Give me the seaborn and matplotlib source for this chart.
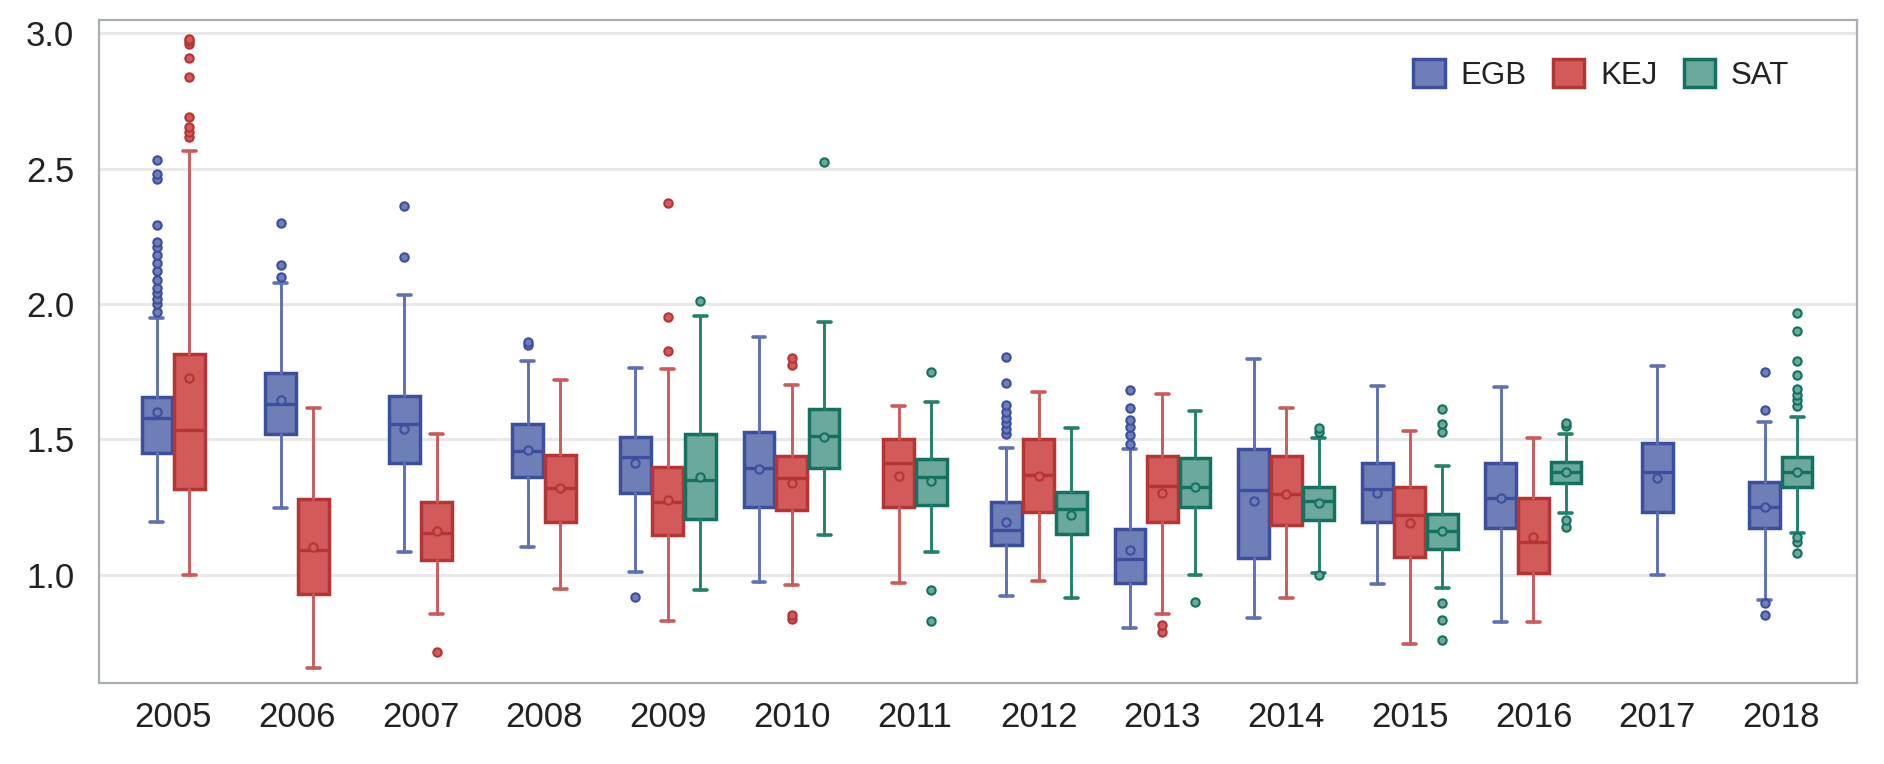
#!/usr/bin/env python3
"""Grouped box plots per year (EGB / KEJ / SAT), drawn from summary stats."""

import matplotlib
matplotlib.use('Agg')
import matplotlib.pyplot as plt
from matplotlib.patches import Patch
import seaborn as sns

# ---- data ----
YEARS = ['2005', '2006', '2007', '2008', '2009', '2010', '2011',
         '2012', '2013', '2014', '2015', '2016', '2017', '2018']
GROUPS = ['EGB', 'KEJ', 'SAT']

# per group, one entry per year (None = no box that year)
EGB_LO = [1.194, 1.248, 1.085, 1.103, 1.009, 0.972, None, 0.922, 0.802, 0.839, 0.964, 0.826, 0.999, 0.906]
EGB_Q1 = [1.451, 1.520, 1.414, 1.362, 1.301, 1.249, None, 1.110, 0.968, 1.063, 1.194, 1.171, 1.233, 1.171]
EGB_MED = [1.578, 1.629, 1.557, 1.457, 1.436, 1.393, None, 1.165, 1.057, 1.313, 1.316, 1.282, 1.378, 1.251]
EGB_Q3 = [1.658, 1.744, 1.660, 1.556, 1.510, 1.526, None, 1.270, 1.169, 1.463, 1.411, 1.411, 1.488, 1.344]
EGB_HI = [1.950, 2.076, 2.033, 1.791, 1.762, 1.877, None, 1.469, 1.465, 1.796, 1.697, 1.695, 1.772, 1.564]
EGB_MEAN = [1.602, 1.645, 1.538, 1.460, 1.411, 1.390, None, 1.196, 1.091, 1.273, 1.301, 1.283, 1.358, 1.250]
EGB_OUT = [
    [1.97, 2.00, 2.02, 2.04, 2.06, 2.09, 2.12, 2.15, 2.18, 2.21, 2.23, 2.29, 2.46, 2.48, 2.53],
    [2.10, 2.144, 2.298],
    [2.175, 2.36],
    [1.85, 1.86],
    [0.919],
    [],
    None,
    [1.52, 1.54, 1.56, 1.58, 1.60, 1.626, 1.707, 1.805],
    [1.482, 1.516, 1.547, 1.571, 1.615, 1.682],
    [], [], [], [],
    [0.851, 0.894, 1.608, 1.748],
]

KEJ_LO = [0.999, 0.654, 0.854, 0.947, 0.829, 0.962, 0.968, 0.977, 0.854, 0.913, 0.744, 0.824, None, None]
KEJ_Q1 = [1.315, 0.929, 1.054, 1.196, 1.147, 1.239, 1.249, 1.233, 1.196, 1.184, 1.067, 1.007, None, None]
KEJ_MED = [1.535, 1.091, 1.153, 1.319, 1.270, 1.358, 1.411, 1.368, 1.328, 1.298, 1.221, 1.120, None, None]
KEJ_Q3 = [1.815, 1.278, 1.270, 1.442, 1.399, 1.438, 1.501, 1.501, 1.438, 1.438, 1.325, 1.282, None, None]
KEJ_HI = [2.566, 1.617, 1.519, 1.719, 1.760, 1.701, 1.624, 1.674, 1.666, 1.615, 1.531, 1.504, None, None]
KEJ_MEAN = [1.726, 1.103, 1.160, 1.320, 1.275, 1.338, 1.366, 1.365, 1.301, 1.298, 1.192, 1.140, None, None]
KEJ_OUT = [
    [2.618, 2.636, 2.655, 2.69, 2.84, 2.91, 2.96, 2.97, 2.98],
    [],
    [0.716],
    [],
    [1.828, 1.953, 2.372],
    [0.838, 0.852, 1.775, 1.80],
    [], [],
    [0.789, 0.814],
    [], [], [],
    None, None,
]

SAT_LO = [None, None, None, None, 0.943, 1.147, 1.085, 0.913, 0.999, 1.007, 0.952, 1.227, None, 1.153]
SAT_Q1 = [None, None, None, None, 1.205, 1.393, 1.257, 1.149, 1.251, 1.202, 1.094, 1.338, None, 1.325]
SAT_MED = [None, None, None, None, 1.350, 1.512, 1.360, 1.242, 1.325, 1.272, 1.161, 1.381, None, 1.381]
SAT_Q3 = [None, None, None, None, 1.519, 1.611, 1.426, 1.307, 1.430, 1.325, 1.224, 1.418, None, 1.436]
SAT_HI = [None, None, None, None, 1.957, 1.935, 1.639, 1.541, 1.606, 1.504, 1.402, 1.520, None, 1.581]
SAT_MEAN = [None, None, None, None, 1.362, 1.507, 1.348, 1.221, 1.325, 1.264, 1.161, 1.380, None, 1.380]
SAT_OUT = [
    None, None, None, None,
    [2.011],
    [2.526],
    [0.830, 0.943, 1.750],
    [],
    [0.898],
    [1.0, 1.528, 1.541],
    [0.759, 0.833, 0.894, 1.528, 1.557, 1.611],
    [1.177, 1.202, 1.55, 1.562],
    None,
    [1.079, 1.122, 1.138, 1.623, 1.645, 1.664, 1.685, 1.738, 1.789, 1.900, 1.968],
]

# ---- styling ----
FILL = {'EGB': '#6e7eb7', 'KEJ': '#d35a5a', 'SAT': '#6aa99c'}
EDGE = {'EGB': '#3c4f9e', 'KEJ': '#b53434', 'SAT': '#14705f'}
WHISK = {'EGB': '#5f71b2', 'KEJ': '#cc5a5a', 'SAT': '#23806d'}

BOX_W = 0.25
STEP = 0.263
CAP_W = 0.105

sns.set_theme(style='white')
plt.rcParams['font.family'] = ['Liberation Sans', 'DejaVu Sans']

fig = plt.figure(figsize=(18.84, 7.64), dpi=100)
ax = fig.add_axes([0.0527, 0.1056, 0.933, 0.8676])

series = {
    'EGB': (EGB_LO, EGB_Q1, EGB_MED, EGB_Q3, EGB_HI, EGB_MEAN, EGB_OUT),
    'KEJ': (KEJ_LO, KEJ_Q1, KEJ_MED, KEJ_Q3, KEJ_HI, KEJ_MEAN, KEJ_OUT),
    'SAT': (SAT_LO, SAT_Q1, SAT_MED, SAT_Q3, SAT_HI, SAT_MEAN, SAT_OUT),
}

for i, year in enumerate(YEARS):
    present = [g for g in GROUPS if series[g][0][i] is not None]
    n = len(present)
    for k, g in enumerate(present):
        lo, q1, med, q3, hi, mean, out = (s[i] for s in series[g])
        pos = i + (k - (n - 1) / 2) * STEP
        stats = [{'whislo': lo, 'q1': q1, 'med': med, 'q3': q3,
                  'whishi': hi, 'mean': mean, 'fliers': out}]
        ax.bxp(stats, positions=[pos], widths=BOX_W, capwidths=CAP_W,
               patch_artist=True, showmeans=True, manage_ticks=False,
               boxprops=dict(facecolor=FILL[g], edgecolor=EDGE[g], linewidth=2.5),
               medianprops=dict(color=EDGE[g], linewidth=2.4),
               whiskerprops=dict(color=WHISK[g], linewidth=2.1),
               capprops=dict(color=WHISK[g], linewidth=2.6),
               meanprops=dict(marker='o', markerfacecolor=FILL[g],
                              markeredgecolor=EDGE[g], markersize=6,
                              markeredgewidth=1.5),
               flierprops=dict(marker='o', markerfacecolor=FILL[g],
                               markeredgecolor=EDGE[g], markersize=6,
                               markeredgewidth=1.5),
               zorder=3)

ax.set_xlim(-0.598, 13.617)
ax.set_ylim(0.599, 3.047)
ax.set_xticks(range(len(YEARS)))
ax.set_xticklabels(YEARS)
ax.set_yticks([1.0, 1.5, 2.0, 2.5, 3.0])
ax.set_yticklabels(['1.0', '1.5', '2.0', '2.5', '3.0'])
ax.tick_params(axis='both', length=0, labelsize=25, colors='#222222')
ax.tick_params(axis='x', pad=13)
ax.tick_params(axis='y', pad=18)

ax.yaxis.grid(True, color='#e8e8e8', linewidth=2.2, zorder=0)
ax.xaxis.grid(False)
ax.set_axisbelow(True)
for sp in ax.spines.values():
    sp.set_color('#a8aeb4')
    sp.set_linewidth(1.6)

handles = [Patch(facecolor=FILL[g], edgecolor=EDGE[g], linewidth=2.5, label=g)
           for g in GROUPS]
leg = ax.legend(handles=handles, loc='upper right', bbox_to_anchor=(0.972, 0.97),
                ncol=3, frameon=False, fontsize=22.5, handlelength=1.0,
                handleheight=1.0, handletextpad=0.5, columnspacing=0.85,
                borderaxespad=0.2)
for t in leg.get_texts():
    t.set_color('#222222')

fig.savefig('out.png', dpi=100)
plt.close(fig)
